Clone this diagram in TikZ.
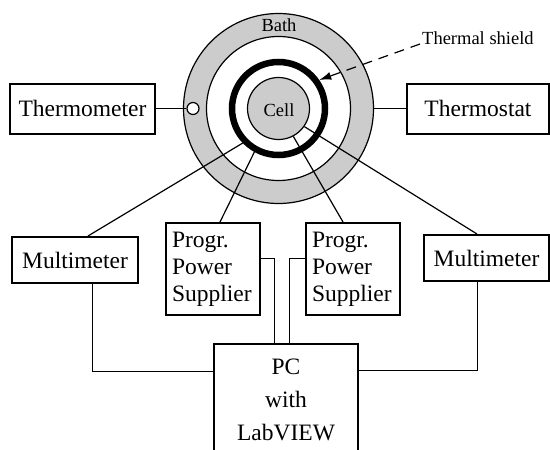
\documentclass[tikz,border=0pt]{standalone}
\usepackage{fontspec}
\setmainfont{Liberation Serif}
\usetikzlibrary{arrows.meta}
\definecolor{bathgray}{gray}{0.80}
\tikzset{
  box/.style={draw, line width=2pt, rectangle, inner sep=0pt, font=\fontsize{23.5}{27}\selectfont},
  ring/.style={draw, circle, line width=1.2pt, inner sep=0pt},
  conn/.style={line width=1.2pt},
  wire/.style={line width=1pt},
  small/.style={font=\fontsize{18.5}{22}\selectfont, inner sep=0pt}
}
\begin{document}
\begin{tikzpicture}[x=1pt,y=-1pt]
\clip (0,0) rectangle (550,450);
\fill[white] (0,0) rectangle (550,450);
% circles
\node[ring, fill=bathgray, minimum size=190pt] (bath) at (278.5,108.5) {};
\node[ring, fill=white, minimum size=144pt] (inner) at (278.5,108.5) {};
\node[draw, circle, line width=6.5pt, inner sep=0pt, minimum size=93pt] (shield) at (278.5,108.5) {};
\node[ring, fill=bathgray, minimum size=62pt] (cell) at (278.5,108.5) {};
\node[small] (celltxt) at (279,110) {Cell};
\node[small] (bathtxt) at (279,25) {Bath};
\node[ring, fill=white, minimum size=12pt] (probe) at (193,108.5) {};
% thermal shield label
\node[small, anchor=base west] (lbl) at (422,44) {Thermal shield};
\draw[line width=1.2pt, dash pattern=on 10pt off 7pt, -{Latex[length=12pt,width=8pt]}] ([xshift=-2pt]lbl.base west) -- (shield.35);
% boxes
\node[box, minimum width=145pt, minimum height=50pt] (thermo) at (82.5,108.5) {Thermometer};
\node[box, minimum width=142pt, minimum height=50pt] (tstat) at (478,108.5) {Thermostat};
\node[box, minimum width=126pt, minimum height=46pt] (mmL) at (75,260) {Multimeter};
\node[box, minimum width=125pt, minimum height=46pt] (mmR) at (486.5,258) {Multimeter};
\node[box, minimum width=94pt, minimum height=92pt, align=left, text width=82pt, inner xsep=6pt] (ppsL) at (213,269) {Progr.\\Power\\Supplier};
\node[box, minimum width=94pt, minimum height=92pt, align=left, text width=82pt, inner xsep=6pt] (ppsR) at (353,269) {Progr.\\Power\\Supplier};
\node[box, minimum width=144pt, minimum height=112pt, align=center, font=\fontsize{23.5}{33}\selectfont] (pc) at (286,400) {PC\\with\\LabVIEW};
% connectors to cell / shield
\draw[conn] (thermo.east) -- (probe.west);
\draw[conn] (bath.east) -- (tstat.west);
\draw[conn] ([xshift=13pt]mmL.north) -- (shield.-136);
\draw[conn] ([xshift=7pt]ppsL.north) -- (shield.-119);
\draw[conn] ([xshift=-10pt]ppsR.north) -- (cell.-62);
\draw[conn] ([xshift=-9.5pt]mmR.north) -- (cell.-35);
% wires to PC
\draw[wire] ([xshift=17pt]mmL.south) |- ([yshift=29pt]pc.west);
\draw[wire] ([xshift=-9.5pt]mmR.south) |- ([yshift=30pt]pc.east);
\draw[wire] ([yshift=11pt]ppsL.east) -| ([xshift=-12pt]pc.north);
\draw[wire] ([yshift=11pt]ppsR.west) -| ([xshift=3pt]pc.north);
\end{tikzpicture}
\end{document}
